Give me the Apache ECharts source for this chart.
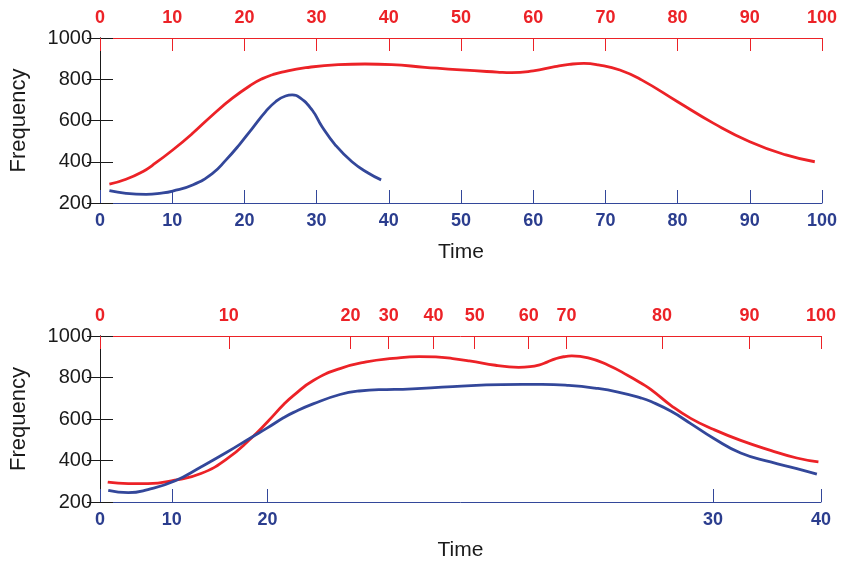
<!DOCTYPE html>
<html>
<head>
<meta charset="utf-8">
<script src="https://cdn.jsdelivr.net/npm/echarts@6/dist/echarts.min.js"></script>
<style>
html,body{margin:0;padding:0;background:#fff;}
#chart{width:844px;height:565px;}
</style>
</head>
<body>
<div id="chart"></div>
<script>
// ---------- DATA ----------
// Top panel: red series on red (top) time axis, blue series on blue (bottom) time axis
var topRedT = [1.3, 3.6, 5.9, 7.3, 10.07, 12.83, 15.59, 18.34, 21.1, 22.5, 23.9, 25.2, 28.5, 33, 36.7, 40.4, 45, 50, 55, 57, 60, 63, 65, 67, 69, 72, 75, 80, 85, 90, 95, 99];
var topRedV = [291, 315, 352, 384, 457, 538, 627, 708, 776, 803, 822, 835, 856, 871, 874, 871, 858, 845, 835, 832, 841, 861, 872, 877, 870, 845, 797, 691, 586, 497, 433, 400];
var topBlueT = [1.3, 3.6, 6.4, 8.5, 10.07, 12.83, 15.59, 17.43, 19.26, 21.1, 22.94, 24.32, 25.7, 26.62, 27.77, 29.38, 30.76, 32.6, 34.9, 37.2, 38.94];
var topBlueV = [260, 247, 242, 248, 258, 287, 344, 408, 481, 562, 643, 691, 719, 724, 708, 651, 570, 481, 400, 344, 312];

// Bottom panel: both series drawn along the warping path index (0..140)
var pathLength = 140;
var botRedP = [1.5, 5.5, 9.3, 14.5, 19.6, 24.7, 29.3, 32.5, 35.7, 37.6, 41.5, 46.6, 51.7, 56.9, 62.0, 65.2, 68.5, 71.7, 76.8, 79.0, 81.3, 83.5, 85.2, 86.8, 88.4, 90.0, 91.6, 94.8, 98.7, 102.5, 105.1, 107.0, 110.9, 114.7, 119.2, 124.4, 130.2, 135.3, 139.5];
var botRedV = [296, 289, 289, 305, 337, 409, 506, 586, 671, 714, 787, 843, 875, 892, 901, 899, 891, 880, 859, 852, 849, 852, 860, 874, 890, 900, 904, 895, 859, 810, 772, 742, 665, 603, 549, 497, 449, 412, 393];
var botBlueP = [1.6, 5.5, 9.3, 14.5, 19.6, 24.7, 29.3, 32.5, 35.7, 37.6, 41.5, 46.6, 50.3, 55.6, 58.8, 68.5, 78.1, 85.8, 91.0, 96.1, 100.6, 105.1, 107.0, 110.9, 114.7, 119.2, 124.4, 130.2, 135.3, 139.2];
var botBlueV = [256, 245, 260, 301, 369, 441, 510, 557, 607, 632, 674, 718, 735, 742, 743, 756, 766, 767, 762, 749, 730, 701, 684, 637, 578, 506, 436, 393, 361, 334];

// Bottom panel tick positions (path index) and their time labels
var redTickPos = [0, 25.0, 48.65, 56.06, 64.74, 72.76, 83.25, 90.58, 109.15, 126.12, 140];
var redTickLabels = ['0', '10', '20', '30', '40', '50', '60', '70', '80', '90', '100'];
var blueTickPos = [0, 13.94, 32.53, 119.04, 140];
var blueTickLabels = ['0', '10', '20', '30', '40'];

var yMin = 200, yMax = 1000, yStep = 200;
var xTitle = 'Time', yTitle = 'Frequency';

// ---------- STYLE ----------
var RED = '#ec2227', BLUE = '#33479a', BLUE_TXT = '#2b3d8e', BLACK = '#1a1a1a';
var FONT = '"Liberation Sans", Arial, Helvetica, sans-serif';

function pairs(xs, ys){ return xs.map(function(x,i){ return [x, ys[i]]; }); }
function fmtFrom(pos, labels){
  return function(v){
    for (var i=0;i<pos.length;i++){ if (Math.abs(pos[i]-v) < 1e-6) return labels[i]; }
    return '';
  };
}

function xAxisBase(gridIndex, position, color, textColor){
  return {
    type: 'value', gridIndex: gridIndex, position: position,
    axisLine: {show: true, onZero: false, lineStyle: {color: color, width: 1}},
    axisTick: {show: true, inside: true, length: 13, lineStyle: {color: color, width: 1}},
    axisLabel: {show: true, color: textColor, fontSize: 18, fontWeight: 'bold', fontFamily: FONT,
                margin: position === 'top' ? 11 : 9},
    splitLine: {show: false}
  };
}
function yAxisBase(gridIndex, position){
  return {
    type: 'value', gridIndex: gridIndex, position: position,
    min: yMin, max: yMax, interval: yStep,
    axisLine: {show: true, lineStyle: {color: BLACK, width: 1}},
    axisTick: {show: true, inside: true, length: 13, lineStyle: {color: BLACK, width: 1}},
    axisLabel: {show: position === 'left', color: BLACK, fontSize: 20, fontFamily: FONT, margin: 8,
                formatter: function(v){ return String(v); }},
    splitLine: {show: false}
  };
}

// top panel axes
var x0 = xAxisBase(0, 'bottom', BLUE, BLUE_TXT);
x0.min = 0; x0.max = 100; x0.interval = 10;
x0.name = xTitle; x0.nameLocation = 'middle'; x0.nameGap = 39;
x0.nameTextStyle = {color: BLACK, fontSize: 21, fontFamily: FONT};
var x1 = xAxisBase(0, 'top', RED, RED);
x1.min = 0; x1.max = 100; x1.interval = 10;

// bottom panel axes
var x2 = xAxisBase(1, 'bottom', BLUE, BLUE_TXT);
x2.min = 0; x2.max = pathLength;
x2.axisTick.customValues = blueTickPos;
x2.axisLabel.customValues = blueTickPos;
x2.axisLabel.formatter = fmtFrom(blueTickPos, blueTickLabels);
x2.name = xTitle; x2.nameLocation = 'middle'; x2.nameGap = 38;
x2.nameTextStyle = {color: BLACK, fontSize: 21, fontFamily: FONT};
var x3 = xAxisBase(1, 'top', RED, RED);
x3.min = 0; x3.max = pathLength;
x3.axisTick.customValues = redTickPos;
x3.axisLabel.customValues = redTickPos;
x3.axisLabel.formatter = fmtFrom(redTickPos, redTickLabels);

var y0 = yAxisBase(0, 'left');
y0.name = yTitle; y0.nameLocation = 'middle'; y0.nameGap = 70;
y0.nameTextStyle = {color: BLACK, fontSize: 22, fontFamily: FONT};
var y1 = yAxisBase(0, 'right');
var y2 = yAxisBase(1, 'left');
y2.name = yTitle; y2.nameLocation = 'middle'; y2.nameGap = 70;
y2.nameTextStyle = {color: BLACK, fontSize: 22, fontFamily: FONT};
var y3 = yAxisBase(1, 'right');

function lineSeries(name, xi, yi, data, color){
  return {
    name: name, type: 'line', xAxisIndex: xi, yAxisIndex: yi, data: data,
    smooth: 0.5, showSymbol: false, symbol: 'none', silent: true,
    lineStyle: {color: color, width: 2.8}, z: 5
  };
}

var chart = echarts.init(document.getElementById('chart'), null, {renderer: 'canvas'});
chart.setOption({
  backgroundColor: '#ffffff',
  animation: false,
  grid: [
    {left: 97, right: 22, top: 38, height: 165, containLabel: false},
    {left: 95, right: 23, top: 336, height: 166, containLabel: false}
  ],
  xAxis: [x0, x1, x2, x3],
  yAxis: [y0, y1, y2, y3],
  series: [
    lineSeries('Red (top)', 1, 0, pairs(topRedT, topRedV), RED),
    lineSeries('Blue (top)', 0, 0, pairs(topBlueT, topBlueV), BLUE),
    lineSeries('Red (warped)', 3, 2, pairs(botRedP, botRedV), RED),
    lineSeries('Blue (warped)', 2, 2, pairs(botBlueP, botBlueV), BLUE)
  ]
});
</script>
</body>
</html>
